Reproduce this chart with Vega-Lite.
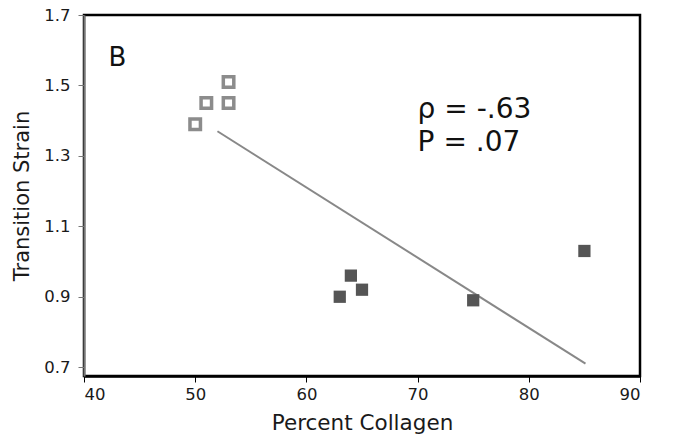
{
  "$schema": "https://vega.github.io/schema/vega-lite/v6.json",
  "width": 556,
  "height": 361,
  "autosize": "none",
  "padding": {"left": 84, "top": 15, "right": 33, "bottom": 69},
  "background": "white",
  "config": {
    "view": {"stroke": "black", "strokeWidth": 2.5},
    "font": "DejaVu Sans"
  },
  "datasets": {
    "pts": [
      {"collagen": 50, "strain": 1.39, "group": "open"},
      {"collagen": 51, "strain": 1.45, "group": "open"},
      {"collagen": 53, "strain": 1.45, "group": "open"},
      {"collagen": 53, "strain": 1.51, "group": "open"},
      {"collagen": 63, "strain": 0.90, "group": "filled"},
      {"collagen": 64, "strain": 0.96, "group": "filled"},
      {"collagen": 65, "strain": 0.92, "group": "filled"},
      {"collagen": 75, "strain": 0.89, "group": "filled"},
      {"collagen": 85, "strain": 1.03, "group": "filled"}
    ],
    "fit": [
      {"collagen": 52, "strain": 1.37},
      {"collagen": 85.1, "strain": 0.71}
    ],
    "panel": [
      {"collagen": 43, "strain": 1.578, "label": "B"}
    ],
    "stats": [
      {"collagen": 70, "strain": 1.43, "label": "ρ = -.63"},
      {"collagen": 70, "strain": 1.336, "label": "P = .07"}
    ]
  },
  "encoding": {
    "x": {
      "field": "collagen", "type": "quantitative",
      "scale": {"domain": [40, 90], "nice": false, "zero": false},
      "axis": {
        "title": "Percent Collagen", "values": [40, 50, 60, 70, 80, 90],
        "grid": false, "domainColor": "black", "domainWidth": 2.5,
        "tickColor": "black", "tickSize": 6, "labelFontSize": 16.5, "labelColor": "#1a1a1a", "labelPadding": 4,
        "titleFontSize": 21.5, "titleFontWeight": "normal", "titleColor": "#1a1a1a", "titlePadding": 10
      }
    },
    "y": {
      "field": "strain", "type": "quantitative",
      "scale": {"domain": [0.675, 1.7], "nice": false, "zero": false},
      "axis": {
        "title": "Transition Strain", "values": [0.7, 0.9, 1.1, 1.3, 1.5, 1.7], "format": ".1f",
        "grid": false, "domainColor": "#777", "domainWidth": 2,
        "tickColor": "#777", "tickSize": 6, "labelFontSize": 16.5, "labelColor": "#1a1a1a", "labelPadding": 8,
        "titleFontSize": 21, "titleFontWeight": "normal", "titleColor": "#1a1a1a", "titlePadding": 11
      }
    }
  },
  "layer": [
    {
      "data": {"name": "fit"},
      "mark": {"type": "line", "color": "#888", "strokeWidth": 2}
    },
    {
      "data": {"name": "pts"},
      "transform": [{"filter": "datum.group == 'open'"}],
      "mark": {"type": "square", "filled": false, "stroke": "#8c8c8c", "strokeWidth": 3.5, "size": 110, "opacity": 1}
    },
    {
      "data": {"name": "pts"},
      "transform": [{"filter": "datum.group == 'filled'"}],
      "mark": {"type": "square", "filled": true, "color": "#555", "size": 150, "opacity": 1}
    },
    {
      "data": {"name": "panel"},
      "mark": {"type": "text", "fontSize": 26, "color": "#111", "baseline": "middle", "align": "center"},
      "encoding": {"text": {"field": "label"}}
    },
    {
      "data": {"name": "stats"},
      "mark": {"type": "text", "fontSize": 28, "color": "#111", "baseline": "middle", "align": "left"},
      "encoding": {"text": {"field": "label"}}
    }
  ]
}
